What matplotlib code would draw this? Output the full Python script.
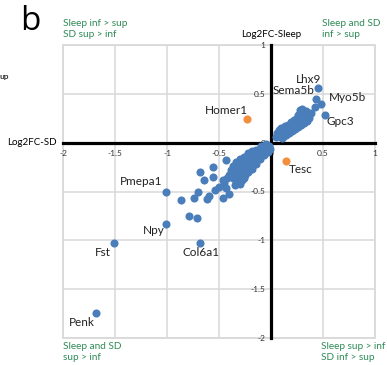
import matplotlib
matplotlib.use("Agg")
import matplotlib.pyplot as plt
from matplotlib.patches import Rectangle

plt.rcParams["font.family"] = ["Lato", "DejaVu Sans"]

# labelled genes: name, log2FC SD, log2FC Sleep, colour group
gene_names = ["Lhx9", "Sema5b", "Myo5b", "Gpc3", "Homer1", "Tesc",
              "Pmepa1", "Npy", "Fst", "Col6a1", "Penk"]
gene_sd = [0.455, 0.43, 0.485, 0.52, -0.23, 0.145,
           -1.01, -1.01, -1.51, -0.68, -1.68]
gene_sleep = [0.555, 0.45, 0.40, 0.285, 0.245, -0.185,
              -0.505, -0.835, -1.03, -1.03, -1.745]
gene_orange = [False, False, False, False, True, True,
               False, False, False, False, False]
label_sd = [0.36, 0.22, 0.74, 0.67, -0.43, 0.29,
            -1.25, -1.125, -1.615, -0.67, -1.82]
label_sleep = [0.645, 0.535, 0.465, 0.22, 0.33, -0.27,
               -0.40, -0.90, -1.12, -1.12, -1.845]

# unlabelled genes, upper right cluster
up_sd = [0.05, 0.06, 0.08, 0.08, 0.10, 0.10, 0.11, 0.12, 0.13, 0.14, 0.15,
         0.16, 0.17, 0.18, 0.19, 0.20, 0.21, 0.22, 0.23, 0.24, 0.25, 0.26,
         0.27, 0.28, 0.29, 0.30, 0.31, 0.32, 0.33, 0.34, 0.35, 0.36, 0.37,
         0.38, 0.28, 0.30, 0.33, 0.12, 0.09, 0.16, 0.20, 0.24, 0.27, 0.31,
         0.35, 0.42, 0.07, 0.11, 0.14, 0.18, 0.22, 0.25, 0.29, 0.32, 0.26,
         0.34, 0.13, 0.17, 0.21, 0.36]
up_sleep = [0.06, 0.10, 0.07, 0.13, 0.09, 0.15, 0.05, 0.12, 0.17, 0.08, 0.13,
            0.18, 0.10, 0.15, 0.21, 0.12, 0.17, 0.23, 0.14, 0.19, 0.25, 0.16,
            0.21, 0.27, 0.18, 0.23, 0.30, 0.20, 0.26, 0.32, 0.22, 0.28, 0.25,
            0.30, 0.33, 0.34, 0.29, 0.06, 0.11, 0.15, 0.19, 0.22, 0.24, 0.26,
            0.26, 0.37, 0.09, 0.10, 0.14, 0.17, 0.20, 0.20, 0.25, 0.28, 0.28,
            0.24, 0.13, 0.13, 0.15, 0.30]

# unlabelled genes, lower left cluster
down_sd = [-0.06, -0.10, -0.14, -0.18, -0.22, -0.26, -0.30, -0.34, -0.37,
           -0.04, -0.08, -0.12, -0.16, -0.20, -0.24, -0.28, -0.32, -0.36, -0.40,
           -0.03, -0.07, -0.11, -0.15, -0.19, -0.23, -0.27, -0.31, -0.34, -0.30,
           -0.02, -0.05, -0.09, -0.13, -0.17, -0.21, -0.25, -0.29, -0.33, -0.38,
           -0.42, -0.26, -0.22, -0.18, -0.14, -0.01, -0.35, -0.45, -0.43, -0.40,
           -0.46, -0.50, -0.54, -0.46, -0.43, -0.56, -0.555, -0.64, -0.68, -0.60,
           -0.62, -0.70, -0.74, -0.87, -0.79, -0.71,
           -0.32, -0.28, -0.24, -0.20, -0.16, -0.12, -0.27, -0.23, -0.35, -0.31,
           -0.37, -0.33, -0.28, -0.25, -0.21, -0.17, -0.13, -0.09, -0.05]
down_sleep = [-0.02, -0.03, -0.07, -0.09, -0.11, -0.15, -0.17, -0.20, -0.24,
              -0.06, -0.08, -0.12, -0.14, -0.17, -0.20, -0.24, -0.27, -0.31, -0.33,
              -0.10, -0.13, -0.17, -0.20, -0.24, -0.27, -0.31, -0.35, -0.39, -0.42,
              -0.03, -0.01, -0.05, -0.10, -0.18, -0.21, -0.24, -0.29, -0.33, -0.28,
              -0.36, -0.36, -0.30, -0.27, -0.22, -0.06, -0.43, -0.41, -0.46, -0.53,
              -0.57, -0.45, -0.48, -0.385, -0.175, -0.25, -0.35, -0.38, -0.30, -0.55,
              -0.58, -0.505, -0.57, -0.59, -0.75, -0.775,
              -0.22, -0.20, -0.16, -0.13, -0.10, -0.07, -0.27, -0.23, -0.26, -0.31,
              -0.36, -0.37, -0.38, -0.33, -0.27, -0.22, -0.16, -0.11, -0.08]

ticks = [-2, -1.5, -1, -0.5, 0, 0.5, 1]
tick_labels = ["-2", "-1.5", "-1", "-0.5", "0", "0.5", "1"]

blue = "#4a7ebb"
orange = "#f28e3c"
green = "#2e8b57"
grid_grey = "#d9d9d9"

fig = plt.figure(figsize=(3.87, 3.65), dpi=100)
ax = fig.add_axes([63 / 387, 1 - 338 / 365, 312 / 387, 293 / 365])

ax.set_xlim(-2, 1)
ax.set_ylim(-2, 1)
ax.set_xticks(ticks)
ax.set_yticks(ticks)
ax.set_xticklabels(tick_labels)
ax.set_yticklabels(tick_labels)
ax.grid(True, color=grid_grey, linewidth=1.1)
ax.set_axisbelow(True)

for side in ["top", "right"]:
    ax.spines[side].set_visible(False)
for side in ["left", "bottom"]:
    ax.spines[side].set_position(("data", 0))
    ax.spines[side].set_linewidth(2.3)
    ax.spines[side].set_color("black")
    ax.spines[side].set_zorder(1.5)
ax.add_patch(Rectangle((0, 0), 1, 1, transform=ax.transAxes, fill=False,
                       ec=grid_grey, lw=1.3, clip_on=False, zorder=0.5))
ax.tick_params(length=0, labelsize=6, labelcolor="#333333")
ax.tick_params(axis="x", pad=5)
ax.tick_params(axis="y", pad=4)

ax.scatter(up_sd, up_sleep, s=34, color=blue, lw=0, zorder=3)
ax.scatter(down_sd, down_sleep, s=34, color=blue, lw=0, zorder=3)
for i, name in enumerate(gene_names):
    col = orange if gene_orange[i] else blue
    ax.scatter(gene_sd[i], gene_sleep[i], s=34, color=col, lw=0, zorder=3)
    ax.text(label_sd[i], label_sleep[i], name, fontsize=8.5,
            ha="center", va="center", color="#222222")

ax.text(0, 1.11, "Log2FC-Sleep", fontsize=7, ha="center", va="center")
ax.text(-2.06, 0, "Log2FC-SD", fontsize=7, ha="right", va="center")

corner = dict(fontsize=7.2, color=green, ha="left", va="center", linespacing=1.25)
fig.text(63 / 387, 1 - 29 / 365, "Sleep inf > sup\nSD sup > inf", **corner)
fig.text(322 / 387, 1 - 29 / 365, "Sleep and SD\ninf > sup", **corner)
fig.text(63 / 387, 1 - 352 / 365, "Sleep and SD\nsup > inf", **corner)
fig.text(321 / 387, 1 - 352 / 365, "Sleep sup > inf\nSD inf > sup", **corner)

fig.text(30 / 387, 1 - 21 / 365, "b", fontsize=24, ha="center", va="center",
         family=["Open Sans", "DejaVu Sans"])
fig.text(-1 / 387, 1 - 77 / 365, "up", fontsize=6, fontweight="bold",
         ha="left", va="center", color="#333333")

fig.savefig("out.png", dpi=100)
